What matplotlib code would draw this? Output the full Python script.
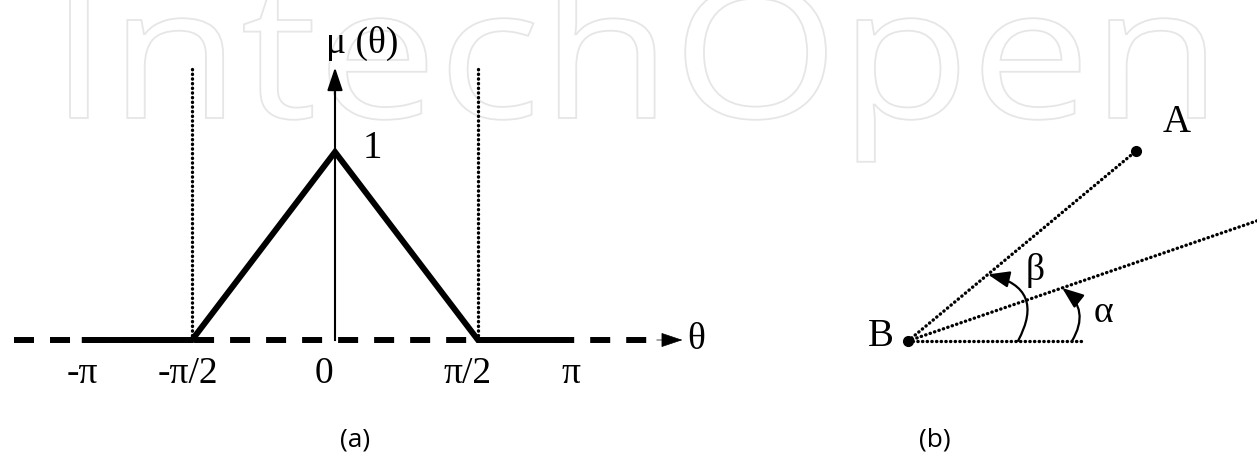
import numpy as np
import matplotlib
matplotlib.use("Agg")
import matplotlib.pyplot as plt
from matplotlib.patches import FancyArrowPatch, PathPatch
from matplotlib.textpath import TextPath
from matplotlib.font_manager import FontProperties
from matplotlib.transforms import Affine2D

SERIF = ["Liberation Serif", "DejaVu Serif"]

# ---- panel (a): membership function, theta in units of pi/2 (schematic)
theta_pts = [-1.75, -1.0, 0.0, 1.0, 1.6]
mu_pts = [0.0, 0.0, 1.0, 0.0, 0.0]
tick_pos = [-1.77, -1.03, -0.08, 0.93, 1.65]
tick_labels = ["-π", "-π/2", "0", "π/2", "π"]
bound_pos = [-1.0, 1.0]

# ---- panel (b): points relative to B, angles in degrees
point_B = (0.0, 0.0)
point_A = (228.0, 190.0)
alpha_deg = 19.0

W, H = 1257, 454
fig = plt.figure(figsize=(W / 100, H / 100), dpi=100)

# watermark layer in pixel coordinates
axw = fig.add_axes([0, 0, 1, 1])
axw.set_xlim(0, W)
axw.set_ylim(H, 0)
axw.axis("off")
fp = FontProperties(family="Open Sans")
tp = TextPath((0, 0), "IntechOpen", size=1, prop=fp)
xh = TextPath((0, 0), "x", size=1, prop=fp).get_extents().height
bb = tp.get_extents()
sx = (1205 - 70) / bb.width
sy = 98 / xh
tr = Affine2D().translate(-bb.x0, 0).scale(sx, -sy).translate(70, 118)
axw.add_patch(PathPatch(tr.transform_path(tp), facecolor="none",
                        edgecolor="#e6e6e6", lw=1.3))

# panel (a) axes: 1 unit of theta = 143 px, 1 unit of mu = 188 px
ax = fig.add_axes([0, 0, 1, 1])
ax.set_xlim(-335 / 143, (W - 335) / 143)
ax.set_ylim((340 - H) / 188, 340 / 188)
ax.axis("off")
ax.patch.set_alpha(0)

dot = dict(color="black", lw=2.4, linestyle=(0, (0.1, 1.3)), dash_capstyle="round")

# dashed theta axis with arrow
ax.plot([-2.245, 2.29], [0, 0], color="black", lw=4.3,
        linestyle=(0, (3.35, 2.68)), solid_capstyle="butt", dash_capstyle="butt")
ax.add_patch(FancyArrowPatch((2.25, 0), (2.43, 0), arrowstyle="-|>,head_length=14,head_width=4.7",
                             mutation_scale=1, color="black", lw=0.5, shrinkA=0, shrinkB=0))
ax.text(2.46, 0, "θ", family=SERIF, fontsize=27, ha="left", va="center")

# mu axis
ax.plot([0, 0], [0, 1.36], color="black", lw=1.5)
ax.add_patch(FancyArrowPatch((0, 1.3), (0, 1.45), arrowstyle="-|>,head_length=14,head_width=4.7",
                             mutation_scale=1, color="black", lw=1.5, shrinkA=0, shrinkB=0))
ax.text(0.19, 1.58, "μ (θ)", family=SERIF, fontsize=27, ha="center", va="center")

# dotted bounds
for b in bound_pos:
    ax.plot([b, b], [0, 1.46], **dot)

# membership function
ax.plot(theta_pts, mu_pts, color="black", lw=4.3, solid_joinstyle="miter")
ax.text(0.26, 1.02, "1", family=SERIF, fontsize=28, ha="center", va="center")

for p, lab in zip(tick_pos, tick_labels):
    ax.text(p, -0.18, lab, family=SERIF, fontsize=27, ha="center", va="center")

ax.text(0.14, -0.53, "(a)", family="Open Sans", fontsize=19, ha="center", va="center")

# panel (b) axes: pixel units relative to B
axb = fig.add_axes([0, 0, 1, 1])
axb.set_xlim(-908, W - 908)
axb.set_ylim(-(H - 341), 341)
axb.axis("off")
axb.patch.set_alpha(0)

beta_deg = np.degrees(np.arctan2(point_A[1] - point_B[1], point_A[0] - point_B[0]))
axb.plot([point_B[0], point_A[0]], [point_B[1], point_A[1]], **dot)
a = np.radians(alpha_deg)
axb.plot([0, 420 * np.cos(a)], [0, 420 * np.sin(a)], **dot)
axb.plot([0, 175], [0, 0], **dot)
axb.plot([point_A[0], point_B[0]], [point_A[1], point_B[1]], "o", color="black", ms=7, ls="none")

def angle_arrow(r0, r1, ang, rad):
    t = np.radians(ang)
    axb.add_patch(FancyArrowPatch((r0, 0), (r1 * np.cos(t), r1 * np.sin(t)),
                                  connectionstyle=f"arc3,rad={rad}",
                                  arrowstyle="-|>,head_length=13,head_width=5",
                                  mutation_scale=1, color="black", lw=1.6,
                                  shrinkA=0, shrinkB=0))

angle_arrow(110, 104, beta_deg, 0.65)
angle_arrow(164, 163, alpha_deg, 0.44)

axb.text(127, 71, "β", family=SERIF, fontsize=27, ha="center", va="center")
axb.text(195, 28, "α", family=SERIF, fontsize=27, ha="center", va="center")
axb.text(-27, 4, "B", family=SERIF, fontsize=28, ha="center", va="center")
axb.text(269, 218, "A", family=SERIF, fontsize=28, ha="center", va="center")
axb.text(27, -99, "(b)", family="Open Sans", fontsize=19, ha="center", va="center")

fig.savefig("out.png", dpi=100)
